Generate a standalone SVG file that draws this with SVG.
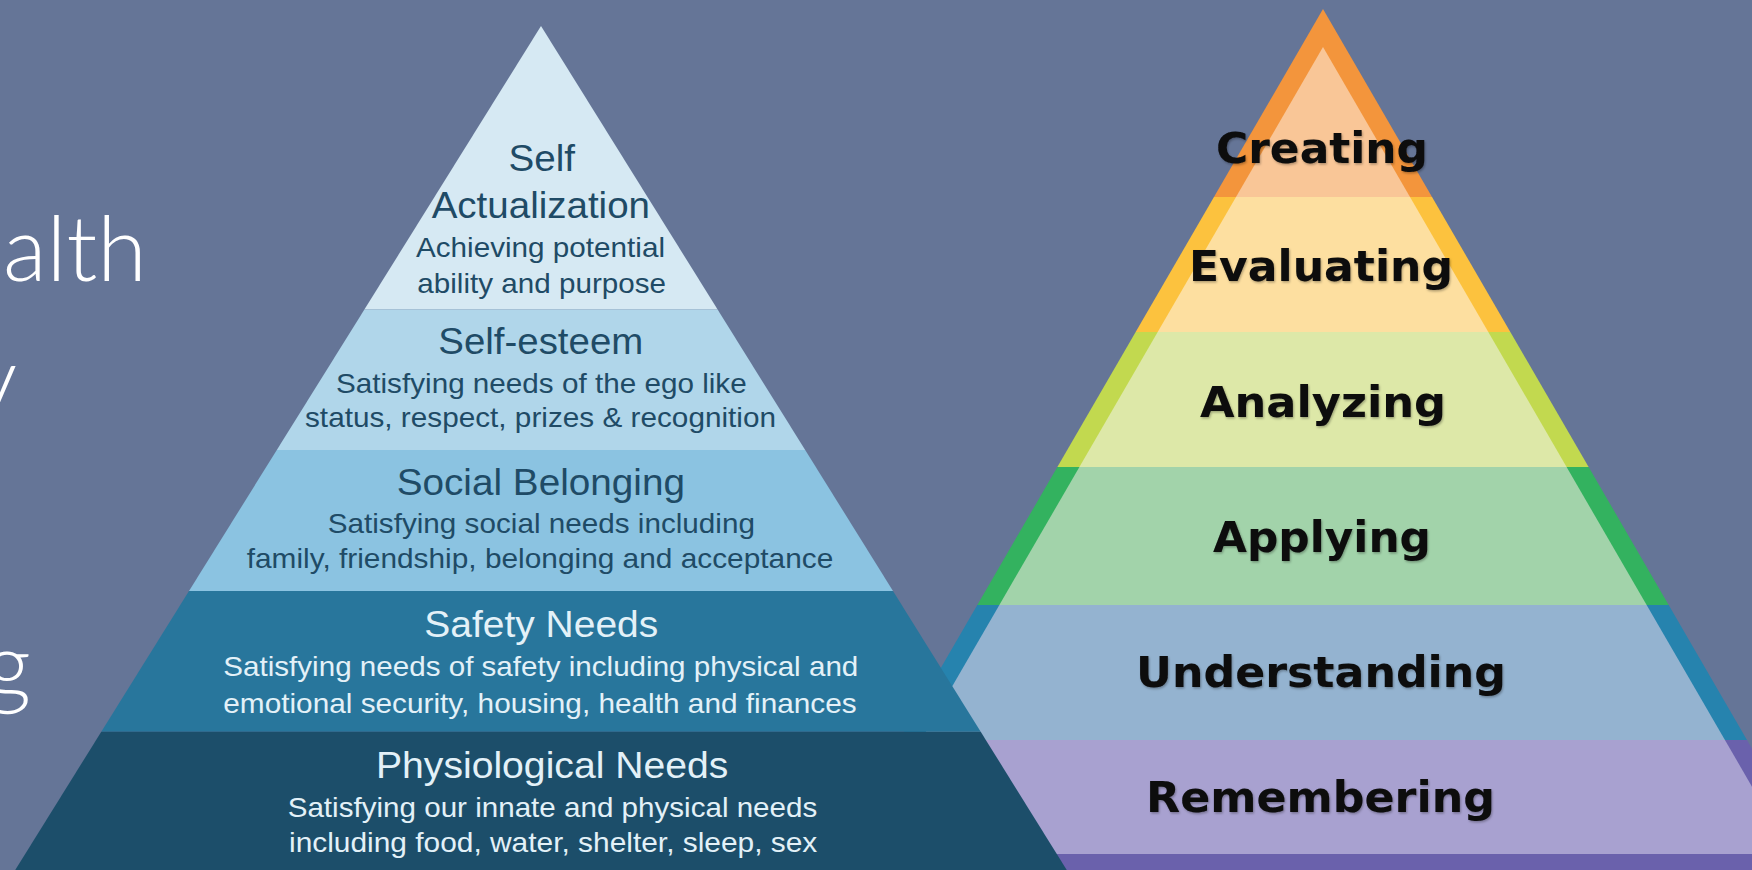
<svg xmlns="http://www.w3.org/2000/svg" width="1752" height="870" viewBox="0 0 1752 870">
  <defs>
    <style>
      .slide { font-family: Lato, "Open Sans", "DejaVu Sans", sans-serif; font-weight: 300; font-size: 90px; fill: #ffffff; }
      .m-title { font-family: "Liberation Sans", Arial, sans-serif; font-size: 37px; }
      .m-desc { font-family: "Liberation Sans", Arial, sans-serif; font-size: 28px; }
      .dark { fill: #1f4b66; }
      .light { fill: #e3f1f8; }
      .b-label { font-family: "DejaVu Sans", Verdana, sans-serif; font-weight: bold; font-size: 43px; fill: #0a0a0a; filter: url(#soft); }
    </style>
    <filter id="soft" x="-10%" y="-30%" width="120%" height="160%">
      <feDropShadow dx="1" dy="1.5" stdDeviation="1" flood-color="#000000" flood-opacity="0.3"/>
    </filter>
  </defs>

  <rect id="background" x="0" y="0" width="1752" height="870" fill="#657597"/>

  <!-- cut-off slide text on the left -->
  <g id="slide-text">
    <text class="slide" x="3" y="281">alth</text>
    <text class="slide" x="-28" y="411">y</text>
    <text class="slide" x="-15" y="697">g</text>
  </g>

  <!-- Bloom's taxonomy pyramid -->
  <g id="bloom">
    <g id="bloom-creating">
      <polygon points="1323,9 1432.04,197 1213.96,197" fill="#f3953c"/>
      <polygon points="1323,47 1410,197 1236,197" fill="#f9c697"/>
      <text class="b-label" x="1216" y="163" textLength="212" lengthAdjust="spacingAndGlyphs">Creating</text>
    </g>
    <g id="bloom-evaluating">
      <polygon points="1213.96,197 1432.04,197 1510.34,332 1135.66,332" fill="#fcc23e"/>
      <polygon points="1236,197 1410,197 1488.3,332 1157.7,332" fill="#fddfa0"/>
      <text class="b-label" x="1189" y="281" textLength="264" lengthAdjust="spacingAndGlyphs">Evaluating</text>
    </g>
    <g id="bloom-analyzing">
      <polygon points="1135.66,332 1510.34,332 1588.64,467 1057.36,467" fill="#c2d94f"/>
      <polygon points="1157.7,332 1488.3,332 1566.6,467 1079.4,467" fill="#dde8a8"/>
      <text class="b-label" x="1200" y="417" textLength="246" lengthAdjust="spacingAndGlyphs">Analyzing</text>
    </g>
    <g id="bloom-applying">
      <polygon points="1057.36,467 1588.64,467 1668.68,605 977.32,605" fill="#33b25f"/>
      <polygon points="1079.4,467 1566.6,467 1646.64,605 999.36,605" fill="#a2d3aa"/>
      <text class="b-label" x="1213" y="552" textLength="218" lengthAdjust="spacingAndGlyphs">Applying</text>
    </g>
    <g id="bloom-understanding">
      <polygon points="977.32,605 1668.68,605 1746.98,740 899.02,740" fill="#2683ae"/>
      <polygon points="999.36,605 1646.64,605 1724.94,740 921.06,740" fill="#94b3d0"/>
      <text class="b-label" x="1136" y="687" textLength="370" lengthAdjust="spacingAndGlyphs">Understanding</text>
    </g>
    <g id="bloom-remembering">
      <polygon points="899.02,740 1746.98,740 1828.18,880 817.82,880" fill="#6a61ac"/>
      <polygon points="921.06,740 1724.94,740 1791.06,854 854.94,854" fill="#a8a1d0"/>
      <text class="b-label" x="1146" y="812" textLength="349" lengthAdjust="spacingAndGlyphs">Remembering</text>
    </g>
  </g>

  <!-- Maslow's hierarchy pyramid -->
  <g id="maslow">
    <g id="maslow-self-actualization">
      <polygon points="541,26 717.6,309.5 364.4,309.5" fill="#d6e9f3"/>
      <text class="m-title dark" x="508.5" y="171" font-size="36" textLength="66.5" lengthAdjust="spacingAndGlyphs">Self</text>
      <text class="m-title dark" x="431.7" y="218.3" font-size="35.5" textLength="218.3" lengthAdjust="spacingAndGlyphs">Actualization</text>
      <text class="m-desc dark" x="416" y="256.7" textLength="249" lengthAdjust="spacingAndGlyphs">Achieving potential</text>
      <text class="m-desc dark" x="417.3" y="292.7" textLength="248.7" lengthAdjust="spacingAndGlyphs">ability and purpose</text>
    </g>
    <g id="maslow-self-esteem">
      <polygon points="364.4,309.5 717.6,309.5 805.2,450 276.8,450" fill="#b0d6ea"/>
      <text class="m-title dark" x="438.3" y="354" font-size="36" textLength="205" lengthAdjust="spacingAndGlyphs">Self-esteem</text>
      <text class="m-desc dark" x="336" y="392.7" textLength="410.7" lengthAdjust="spacingAndGlyphs">Satisfying needs of the ego like</text>
      <text class="m-desc dark" x="305" y="426.5" textLength="471" lengthAdjust="spacingAndGlyphs">status, respect, prizes &amp; recognition</text>
    </g>
    <g id="maslow-social-belonging">
      <polygon points="276.8,450 805.2,450 893,591 189,591" fill="#8bc3e1"/>
      <text class="m-title dark" x="396.7" y="495" font-size="38" textLength="288.3" lengthAdjust="spacingAndGlyphs">Social Belonging</text>
      <text class="m-desc dark" x="327.7" y="532.7" textLength="427.3" lengthAdjust="spacingAndGlyphs">Satisfying social needs including</text>
      <text class="m-desc dark" x="246.7" y="568.3" textLength="586.6" lengthAdjust="spacingAndGlyphs">family, friendship, belonging and acceptance</text>
    </g>
    <g id="maslow-safety-needs">
      <polygon points="189,591 893,591 980.7,731.7 101.3,731.7" fill="#28769c"/>
      <text class="m-title light" x="424.3" y="637.3" font-size="38" textLength="234" lengthAdjust="spacingAndGlyphs">Safety Needs</text>
      <text class="m-desc light" x="223.3" y="676" textLength="635" lengthAdjust="spacingAndGlyphs">Satisfying needs of safety including physical and</text>
      <text class="m-desc light" x="223.3" y="712.7" textLength="633.4" lengthAdjust="spacingAndGlyphs">emotional security, housing, health and finances</text>
    </g>
    <g id="maslow-physiological-needs">
      <polygon points="101.3,731.7 980.7,731.7 1073,880 9,880" fill="#1c4e6a"/>
      <text class="m-title light" x="376" y="778.3" font-size="38.5" textLength="352.3" lengthAdjust="spacingAndGlyphs">Physiological Needs</text>
      <text class="m-desc light" x="287.7" y="816.7" textLength="529.6" lengthAdjust="spacingAndGlyphs">Satisfying our innate and physical needs</text>
      <text class="m-desc light" x="289" y="851.7" textLength="528.3" lengthAdjust="spacingAndGlyphs">including food, water, shelter, sleep, sex</text>
    </g>
  </g>

  <g id="connectors"/>
</svg>
